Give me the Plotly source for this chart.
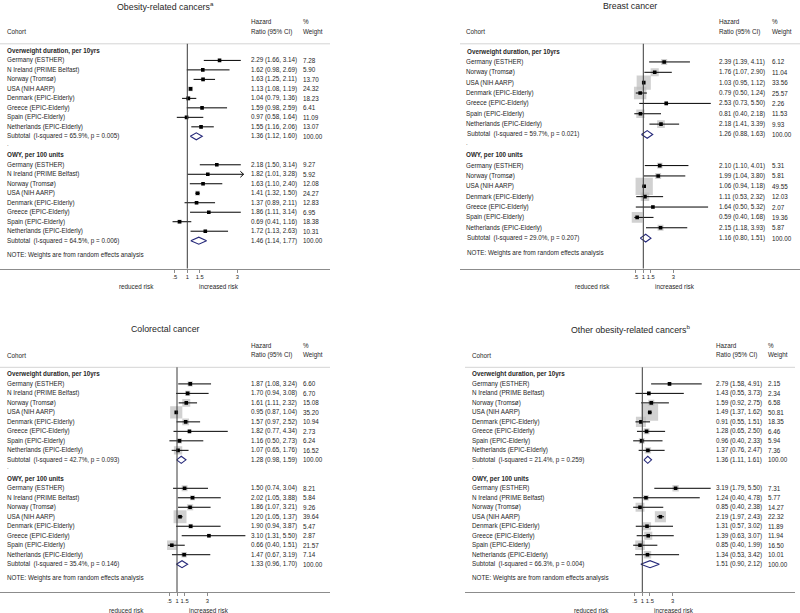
import math
import plotly.graph_objects as go

# ---------------- data ----------------
cohorts8 = ["Germany (ESTHER)", "N Ireland (PRIME Belfast)", "Norway (Tromsø)", "USA (NIH AARP)",
            "Denmark (EPIC-Elderly)", "Greece (EPIC-Elderly)", "Spain (EPIC-Elderly)",
            "Netherlands (EPIC-Elderly)"]
cohorts7 = ["Germany (ESTHER)", "Norway (Tromsø)", "USA (NIH AARP)",
            "Denmark (EPIC-Elderly)", "Greece (EPIC-Elderly)", "Spain (EPIC-Elderly)",
            "Netherlands (EPIC-Elderly)"]

group_labels = ["Overweight duration, per 10yrs", "OWY, per 100 units"]
tick_values = [0.5, 1, 1.5, 3]
tick_labels = [".5", "1", "1.5", "3"]

# Obesity-related cancers
orc_ow_hr = [2.29, 1.62, 1.63, 1.13, 1.04, 1.59, 0.97, 1.55]
orc_ow_lo = [1.66, 0.98, 1.25, 1.08, 0.79, 0.98, 0.58, 1.16]
orc_ow_hi = [3.14, 2.69, 2.11, 1.19, 1.36, 2.59, 1.64, 2.06]
orc_ow_w = [7.28, 5.90, 13.70, 24.32, 18.23, 6.41, 11.09, 13.07]
orc_ow_sub = [1.36, 1.12, 1.60]
orc_ow_i2 = ["65.9%", "0.005"]
orc_owy_hr = [2.18, 1.82, 1.63, 1.41, 1.37, 1.86, 0.69, 1.72]
orc_owy_lo = [1.50, 1.01, 1.10, 1.32, 0.89, 1.11, 0.41, 1.13]
orc_owy_hi = [3.14, 3.28, 2.40, 1.50, 2.11, 3.14, 1.16, 2.63]
orc_owy_w = [9.27, 5.92, 12.08, 24.27, 12.83, 6.95, 18.38, 10.31]
orc_owy_sub = [1.46, 1.14, 1.77]
orc_owy_i2 = ["64.5%", "0.006"]

# Breast cancer
br_ow_hr = [2.39, 1.76, 1.03, 0.79, 2.53, 0.81, 2.18]
br_ow_lo = [1.39, 1.07, 0.95, 0.50, 0.73, 0.40, 1.41]
br_ow_hi = [4.11, 2.90, 1.12, 1.24, 5.50, 2.18, 3.39]
br_ow_w = [6.12, 11.04, 33.56, 25.57, 2.26, 11.53, 9.93]
br_ow_sub = [1.26, 0.88, 1.63]
br_ow_i2 = ["59.7%", "0.021"]
br_owy_hr = [2.10, 1.99, 1.06, 1.11, 1.64, 0.59, 2.15]
br_owy_lo = [1.10, 1.04, 0.94, 0.53, 0.50, 0.40, 1.18]
br_owy_hi = [4.01, 3.80, 1.18, 2.32, 5.32, 1.68, 3.93]
br_owy_w = [5.31, 5.81, 49.55, 12.03, 2.07, 19.36, 5.87]
br_owy_sub = [1.16, 0.80, 1.51]
br_owy_i2 = ["29.0%", "0.207"]

# Colorectal cancer
cr_ow_hr = [1.87, 1.70, 1.61, 0.95, 1.57, 1.82, 1.16, 1.07]
cr_ow_lo = [1.08, 0.94, 1.11, 0.87, 0.97, 0.77, 0.50, 0.65]
cr_ow_hi = [3.24, 3.08, 2.32, 1.04, 2.52, 4.34, 2.73, 1.76]
cr_ow_w = [6.60, 6.70, 15.08, 35.20, 10.94, 2.73, 6.24, 16.52]
cr_ow_sub = [1.28, 0.98, 1.59]
cr_ow_i2 = ["42.7%", "0.093"]
cr_owy_hr = [1.50, 2.02, 1.86, 1.20, 1.90, 3.10, 0.66, 1.47]
cr_owy_lo = [0.74, 1.05, 1.07, 1.05, 0.94, 1.31, 0.40, 0.67]
cr_owy_hi = [3.04, 3.88, 3.21, 1.37, 3.87, 5.50, 1.51, 3.19]
cr_owy_w = [8.21, 5.84, 9.26, 39.64, 5.47, 2.87, 21.57, 7.14]
cr_owy_sub = [1.33, 0.96, 1.70]
cr_owy_i2 = ["35.4%", "0.146"]

# Other obesity-related cancers
oo_ow_hr = [2.79, 1.43, 1.59, 1.49, 0.91, 1.28, 0.96, 1.37]
oo_ow_lo = [1.58, 0.55, 0.92, 1.37, 0.55, 0.65, 0.40, 0.76]
oo_ow_hi = [4.91, 3.73, 2.75, 1.62, 1.51, 2.50, 2.33, 2.47]
oo_ow_w = [2.15, 2.34, 6.58, 50.81, 18.35, 6.46, 5.94, 7.36]
oo_ow_sub = [1.36, 1.11, 1.61]
oo_ow_i2 = ["21.4%", "0.259"]
oo_owy_hr = [3.19, 1.24, 0.85, 2.19, 1.31, 1.39, 0.85, 1.34]
oo_owy_lo = [1.79, 0.40, 0.40, 1.97, 0.57, 0.63, 0.40, 0.53]
oo_owy_hi = [5.50, 4.78, 2.38, 2.43, 3.02, 3.07, 1.99, 3.42]
oo_owy_w = [7.31, 5.77, 14.27, 22.32, 11.89, 11.94, 16.50, 10.01]
oo_owy_sub = [1.51, 0.90, 2.12]
oo_owy_i2 = ["66.3%", "0.004"]

# ---------------- layout constants ----------------
FIG_W, FIG_H = 800, 613
FONT = "Liberation Sans, Arial, sans-serif"
TXT = "#262626"
BOX = "#bdbdbd"
NAVY = "#26297a"

panels = [
    dict(title="Obesity-related cancers<sup>a</sup>", cohorts=cohorts8,
         groups=[(orc_ow_hr, orc_ow_lo, orc_ow_hi, orc_ow_w, orc_ow_sub, orc_ow_i2),
                 (orc_owy_hr, orc_owy_lo, orc_owy_hi, orc_owy_w, orc_owy_sub, orc_owy_i2)],
         L=0, W=330, x1=187.3, ppu=25.0, k=1.0, T=0, clip=3.25),
    dict(title="Breast cancer", cohorts=cohorts7,
         groups=[(br_ow_hr, br_ow_lo, br_ow_hi, br_ow_w, br_ow_sub, br_ow_i2),
                 (br_owy_hr, br_owy_lo, br_owy_hi, br_owy_w, br_owy_sub, br_owy_i2)],
         L=460, W=340, x1=643.3, ppu=15.0, k=2.45, T=0, clip=None),
    dict(title="Colorectal cancer", cohorts=cohorts8,
         groups=[(cr_ow_hr, cr_ow_lo, cr_ow_hi, cr_ow_w, cr_ow_sub, cr_ow_i2),
                 (cr_owy_hr, cr_owy_lo, cr_owy_hi, cr_owy_w, cr_owy_sub, cr_owy_i2)],
         L=0, W=330, x1=177.0, ppu=15.2, k=2.05, T=323.5, clip=None),
    dict(title="Other obesity-related cancers<sup>b</sup>", cohorts=cohorts8,
         groups=[(oo_ow_hr, oo_ow_lo, oo_ow_hi, oo_ow_w, oo_ow_sub, oo_ow_i2),
                 (oo_owy_hr, oo_owy_lo, oo_owy_hi, oo_owy_w, oo_owy_sub, oo_owy_i2)],
         L=465, W=330, x1=642.3, ppu=15.2, k=2.35, T=323.5, clip=None),
]


def pxx(x):
    return x / FIG_W


def pxy(y):
    return 1 - y / FIG_H


fig = go.Figure()
annotations = []
shapes = []
layout_axes = {}

for i, p in enumerate(panels, start=1):
    sfx = "" if i == 1 else str(i)
    xa, ya = "x" + sfx, "y" + sfx
    n = len(p["cohorts"])
    S = 2 * n + 4
    L, W, T = p["L"], p["W"], p["T"]
    s = W / 330.0
    x_lo = 1 - (p["x1"] - L) / p["ppu"]
    x_hi = 1 + (L + W - p["x1"]) / p["ppu"]
    sep_px, axis_px = T + 43.8, T + 268.5
    y_range = [S + 2.93, -0.75]
    rows_px = (axis_px - sep_px) / (y_range[0] - y_range[1])

    layout_axes["xaxis" + sfx] = dict(
        domain=[pxx(L), pxx(L + W)], range=[x_lo, x_hi], anchor=ya,
        showgrid=False, zeroline=False, showline=True, linecolor="#8c8c8c", linewidth=1,
        ticks="outside", ticklen=3, tickcolor="#8c8c8c", tickwidth=1,
        tickvals=tick_values, ticktext=tick_labels, tickangle=0,
        tickfont=dict(family=FONT, size=5.8, color=TXT), fixedrange=True)
    layout_axes["yaxis" + sfx] = dict(
        domain=[pxy(axis_px), pxy(sep_px)], range=y_range, anchor=xa,
        visible=False, fixedrange=True)

    # separator and reference line
    shapes.append(dict(type="line", xref=xa + " domain", yref=ya + " domain",
                       x0=0, x1=1, y0=1, y1=1, line=dict(color="#d4d4d4", width=1)))
    shapes.append(dict(type="line", xref=xa, yref=ya + " domain",
                       x0=1, x1=1, y0=0, y1=1, line=dict(color="#3a3a3a", width=1)))

    def ann(text, x_px, y, yref="paper", size=6.3, anchor="left", bold=False):
        annotations.append(dict(
            text=("<b>%s</b>" % text) if bold else text, x=pxx(x_px), y=y,
            xref="paper", yref=yref, xanchor=anchor, yanchor="middle",
            showarrow=False, font=dict(family=FONT, size=size, color=TXT)))

    # titles / headers
    ann(p["title"], L + W / 2, pxy(T + 5.5), size=8.8, anchor="center")
    ann("Cohort", L + 4.5, pxy(T + 31.5))
    ann("Hazard", L + 249.3 * s, pxy(T + 21.7))
    ann("Ratio (95% CI)", L + 249.3 * s, pxy(T + 31.5))
    ann("%", L + 301 * s, pxy(T + 21.7))
    ann("Weight", L + 301 * s, pxy(T + 31.5))

    box_x, box_y, box_sz = [], [], []
    pt_x, pt_y = [], []
    ln_x, ln_y = [], []
    dm_x, dm_y = [], []
    ar_x, ar_y = [], []

    for g, (hr, lo, hi, w, sub, i2) in enumerate(p["groups"]):
        base = 0 if g == 0 else n + 3
        ann(group_labels[g], L + 4.5, base, yref=ya, bold=True)
        for j, name in enumerate(p["cohorts"]):
            r = base + 1 + j
            ann(name, L + 4.5, r, yref=ya)
            ann("%.2f (%.2f, %.2f)" % (hr[j], lo[j], hi[j]), L + 249.3 * s, r, yref=ya)
            ann("%.2f" % w[j], L + 301 * s, r, yref=ya)
            box_x.append(hr[j]); box_y.append(r); box_sz.append(p["k"] * math.sqrt(w[j]))
            pt_x.append(hr[j]); pt_y.append(r)
            top = hi[j]
            if p["clip"] is not None and hi[j] > p["clip"]:
                top = p["clip"]
                dx = 3.2 / p["ppu"]
                dy = 3.0 / rows_px
                ar_x += [top - dx, top, top - dx, None]
                ar_y += [r - dy, r, r + dy, None]
            ln_x += [lo[j], top, None]
            ln_y += [r, r, None]
        rs = base + 1 + n
        ann("Subtotal  (I-squared = %s, p = %s)" % (i2[0], i2[1]), L + 4.5, rs, yref=ya)
        ann("%.2f (%.2f, %.2f)" % (sub[0], sub[1], sub[2]), L + 249.3 * s, rs, yref=ya)
        ann("100.00", L + 301 * s, rs, yref=ya)
        h = 0.37
        dm_x += [sub[1], sub[0], sub[2], sub[0], sub[1], None]
        dm_y += [rs, rs - h, rs, rs + h, rs, None]
    ann(".", L + 4.5, n + 2 - 0.2, yref=ya, size=6)
    ann("NOTE: Weights are from random effects analysis", L + 4.5, S + 1.46, yref=ya)
    # risk labels
    for txt, shift in (("reduced risk", -51), ("increased risk", 32)):
        annotations.append(dict(text=txt, x=1, xref=xa, xshift=shift,
                                y=pxy(T + 286.5), yref="paper", xanchor="center",
                                yanchor="middle", showarrow=False,
                                font=dict(family=FONT, size=6.3, color=TXT)))

    fig.add_trace(go.Scatter(x=box_x, y=box_y, mode="markers", xaxis=xa, yaxis=ya,
                             marker=dict(symbol="square", size=box_sz, color=BOX,
                                         line=dict(width=0)),
                             hoverinfo="skip", showlegend=False))
    fig.add_trace(go.Scatter(x=ln_x, y=ln_y, mode="lines", xaxis=xa, yaxis=ya,
                             line=dict(color="black", width=1), hoverinfo="skip",
                             showlegend=False))
    if ar_x:
        fig.add_trace(go.Scatter(x=ar_x, y=ar_y, mode="lines", xaxis=xa, yaxis=ya,
                                 line=dict(color="black", width=1), hoverinfo="skip",
                                 showlegend=False))
    fig.add_trace(go.Scatter(x=pt_x, y=pt_y, mode="markers", xaxis=xa, yaxis=ya,
                             marker=dict(symbol="square", size=3.6, color="black",
                                         line=dict(width=0)),
                             hoverinfo="skip", showlegend=False))
    fig.add_trace(go.Scatter(x=dm_x, y=dm_y, mode="lines", xaxis=xa, yaxis=ya,
                             fill="toself", fillcolor="white",
                             line=dict(color=NAVY, width=1.1), hoverinfo="skip",
                             showlegend=False))

fig.update_layout(
    width=FIG_W, height=FIG_H, margin=dict(l=0, r=0, t=0, b=0),
    paper_bgcolor="white", plot_bgcolor="white", showlegend=False,
    annotations=annotations, shapes=shapes, **layout_axes)

fig.write_html("out.html", config={"displayModeBar": False},
               post_script="document.body.style.margin='0px';"
                           "document.body.style.overflow='hidden';")
